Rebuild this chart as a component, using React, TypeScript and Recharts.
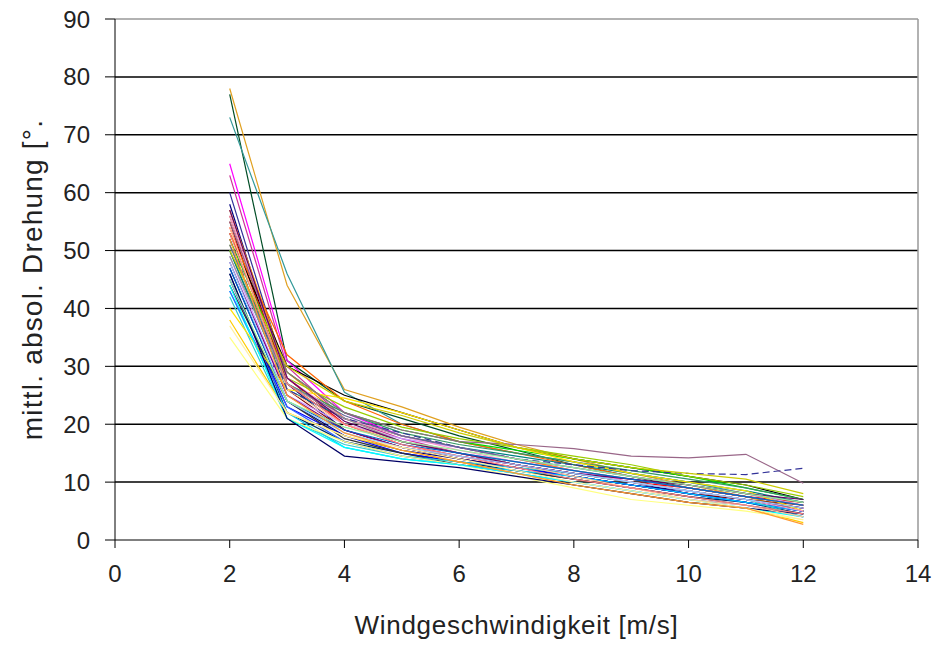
import React from 'react';
import { LineChart, Line, XAxis, YAxis, ReferenceLine } from 'recharts';

// Windgeschwindigkeit [m/s]
const windSpeeds = [2, 3, 4, 5, 6, 7, 8, 9, 10, 11, 12];

// mittl. absol. Drehung per series, one value per wind speed
const r01 = [78, 44, 26, 23, 19.5, 16.5, 14, 11.5, 9.5, 7.5, 5];
const r02 = [77, 31, 24, 21, 18, 15.5, 13, 11, 9, 7.5, 6];
const r03 = [73, 46, 25.5, 20, 17, 15, 13.5, 11.5, 10, 8, 6.5];
const r04 = [65, 31, 22, 18, 16, 14, 12, 10, 8.5, 7, 5.5];
const r05 = [63, 30, 21, 17.5, 15, 13, 11, 9.5, 8, 6.5, 5];
const r06 = [60, 28, 20, 17, 15, 13, 11.5, 10, 8, 7, 5.5];
const r07 = [58, 27, 19, 16, 14, 12.5, 11, 9.5, 8, 6.5, 5];
const r08 = [57, 29, 21, 18, 16, 14, 12, 10.5, 9, 7.5, 6];
const r09 = [56, 27, 20, 17, 15, 13, 11.5, 10, 8.5, 7, 6];
const r10 = [55, 26, 19, 16, 14, 12.5, 11, 9.5, 8, 7, 5.5];
const r11 = [54, 28, 20, 16.5, 14.5, 13, 11.5, 10, 9, 7.5, 6.5];
const r12 = [53, 30, 25, 22, 19, 16, 14, 12.5, 11, 9.5, 7];
const r13 = [53, 32, 24, 20, 17, 15, 13, 11, 9.5, 8, 6];
const r14 = [52, 29, 22, 19, 17, 15.5, 14, 12.5, 11, 9, 7];
const r15 = [51, 28, 23, 19.5, 17.5, 16, 14.5, 13, 11, 9.5, 7.5];
const r16 = [50, 27, 22, 18.5, 16.5, 15, 13.5, 12, 10.5, 9, 7];
const r17 = [50, 26, 21, 18, 16, 14.5, 13, 11.5, 10, 8.5, 6.5];
const r18 = [49, 25, 20, 17.5, 16, 14, 12.5, 11, 9.5, 8, 6];
const r19 = [48, 25, 19, 16, 14.5, 13, 11.5, 10.5, 9, 7.5, 6];
const r20 = [47, 24, 18, 15.5, 14, 12.5, 11, 9.5, 8.5, 7, 5];
const r21 = [46, 22, 17, 15, 13.5, 12, 10.5, 9, 7.5, 6.5, 4.5];
const r22 = [45, 23, 18, 15, 13.5, 12.5, 11, 9.5, 8, 6.5, 5];
const r23 = [44, 24, 17.5, 15, 13, 12, 10.5, 9, 7.5, 6, 4.5];
const r24 = [43, 22, 16, 14, 13, 12, 11, 9.5, 8, 6.5, 5];
const r25 = [42, 21, 16.5, 14.5, 13.5, 12.5, 11.5, 10, 8.5, 7, 4];
const r26 = [43, 23, 17, 14.5, 13, 11.5, 10, 8.5, 7, 6, 4];
const r27 = [40, 26, 24.5, 22, 19, 16, 13.5, 11.5, 10, 8.5, 5];
const r28 = [38, 22, 18, 15.5, 13.5, 11.5, 9.5, 8, 6.5, 5.5, 3];
const r29 = [35, 21, 17, 14.5, 13, 11, 9, 7, 6, 5, 3.5];
const r30 = [44, 21, 16, 14, 13, 11.5, 10, 8.5, 7, 5.5, 4];
const r31 = [46, 21, 14.5, 13.5, 12.5, 11, 9.5, 8, 6.5, 5.5, 4.5];
const r32 = [54, 26, 20, 17, 15, 13, 11, 9, 7, 6, 4];
const r33 = [56, 28, 21, 18, 15.5, 13.5, 12, 10, 8.5, 7, 5];
const r34 = [55, 29, 22, 19, 17, 16.5, 15.8, 14.5, 14.2, 14.8, 9.8];
const r35 = [52, 26, 21, 18.5, 16, 14, 13, 12, 11.5, 11.3, 12.4];
const r36 = [51, 27, 21.5, 18, 16, 14, 12.5, 11, 9.5, 8, 6.5];
const r37 = [50, 30, 24, 21.5, 18.5, 16, 14, 12.5, 11.5, 10.5, 8];
const r38 = [49, 27, 21, 17, 15, 13.5, 12, 10.5, 9, 7.5, 6];
const r39 = [57, 28, 20.5, 17, 15, 13, 11.5, 10.5, 9.5, 8, 7];
const r40 = [47, 24, 19, 16.5, 15, 13.5, 12, 10.5, 9, 7.5, 6];
const r41 = [53, 27, 20, 16.5, 14.5, 12.5, 10.5, 9, 7.5, 6, 4.5];
const r42 = [48, 24, 18.5, 16, 14.5, 13, 11.5, 10, 8.5, 7, 5.5];
const r43 = [37, 22, 18, 16, 14, 12, 10, 8.5, 7, 5.5, 3.5];
const r44 = [45, 24, 19.5, 17, 15.5, 14, 12.5, 11, 9.5, 8, 6.5];
const r45 = [52, 25, 18.5, 15.5, 13.5, 11.5, 9.5, 8, 6.5, 5.5, 2.7];

const allRuns = [
  r01, r02, r03, r04, r05, r06, r07, r08, r09, r10, r11, r12, r13, r14, r15,
  r16, r17, r18, r19, r20, r21, r22, r23, r24, r25, r26, r27, r28, r29, r30,
  r31, r32, r33, r34, r35, r36, r37, r38, r39, r40, r41, r42, r43, r44, r45,
];

const xTicks = [0, 2, 4, 6, 8, 10, 12, 14];
const yTicks = [0, 10, 20, 30, 40, 50, 60, 70, 80, 90];
const gridLines = [10, 20, 30, 40, 50, 60, 70, 80];

const COLORS = [
  '#E0A020', '#004D26', '#339999', '#FF00FF', '#CC3399', '#333399', '#000080', '#FF9900',
  '#993300', '#800000', '#FF0000', '#000000', '#FF6600', '#00DD00', '#99CC00', '#339966',
  '#008080', '#CC99FF', '#800080', '#000080', '#003366', '#0000FF', '#333333', '#00CCFF',
  '#33CCCC', '#3366FF', '#FFE000', '#FFCC00', '#FFFF80', '#00FFFF', '#000066', '#FFCC99',
  '#FF99CC', '#996688', '#333399', '#666699', '#CCCC00', '#969696', '#660066', '#0066CC',
  '#FF8080', '#99CCFF', '#FFF0A0', '#99EE99', '#FF9933',
];
const DASHED = [34];

const chartData = windSpeeds.map((x, i) => {
  const row: Record<string, number> = { x };
  allRuns.forEach((run, k) => {
    row[`s${k}`] = run[i];
  });
  return row;
});

const font = '"Liberation Sans", Arial, sans-serif';

export default function App() {
  return (
    <div style={{ position: 'absolute', left: 0, top: 0, width: 952, height: 646, background: '#fff' }}>
      <LineChart width={952} height={646} data={chartData} margin={{ top: 19, right: 34, bottom: 0, left: 0 }}>
        <XAxis
          type="number"
          dataKey="x"
          domain={[0, 14]}
          ticks={xTicks}
          interval={0}
          height={106}
          stroke="#000"
          tickSize={8}
          tickMargin={17}
          tick={{ fill: '#222', fontSize: 24, fontFamily: font }}
          label={{ value: 'Windgeschwindigkeit [m/s]', position: 'insideBottom', offset: 12, fill: '#222', fontSize: 26, fontFamily: font, letterSpacing: 0.7 }}
        />
        <YAxis
          type="number"
          domain={[0, 90]}
          ticks={yTicks}
          interval={0}
          width={115}
          stroke="#000"
          tickSize={10}
          tickMargin={15}
          tick={{ fill: '#222', fontSize: 24, fontFamily: font }}
          label={{ value: 'mittl. absol. Drehung [°.', angle: -90, position: 'insideLeft', offset: 32, fill: '#222', fontSize: 28, fontFamily: font, letterSpacing: 1.2, style: { textAnchor: 'middle' } }}
        />
        {gridLines.map((v) => (
          <ReferenceLine key={v} y={v} stroke="#000" strokeWidth={1.5} ifOverflow="visible" />
        ))}
        <ReferenceLine y={90} stroke="#999" strokeWidth={1.5} />
        <ReferenceLine x={14} stroke="#999" strokeWidth={1.5} />
        {allRuns.map((_, k) => (
          <Line
            key={k}
            dataKey={`s${k}`}
            stroke={COLORS[k % COLORS.length]}
            strokeWidth={1.2}
            strokeDasharray={DASHED.includes(k) ? '7 4' : undefined}
            dot={false}
            activeDot={false}
            isAnimationActive={false}
          />
        ))}
      </LineChart>
    </div>
  );
}
